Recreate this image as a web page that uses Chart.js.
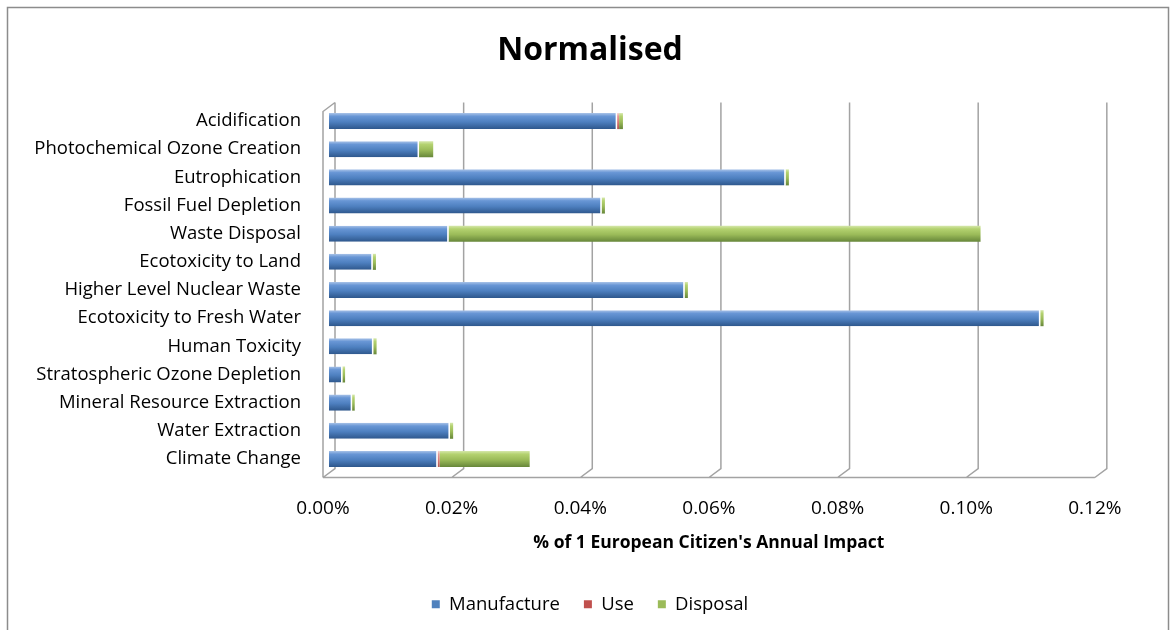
<!DOCTYPE html>
<html>
<head>
<meta charset="utf-8">
<script src="https://cdn.jsdelivr.net/npm/chart.js@4.4.1/dist/chart.umd.min.js"></script>
<style>
  html, body { margin: 0; padding: 0; background: #fff; }
  #wrap { width: 1171px; height: 630px; position: relative; }
</style>
</head>
<body>
<div id="wrap"><canvas id="impactChart" width="1171" height="630"></canvas></div>
<script>
// ---- data (values in % of 1 European citizen's annual impact) ----
const categories = [
    'Acidification',
    'Photochemical Ozone Creation',
    'Eutrophication',
    'Fossil Fuel Depletion',
    'Waste Disposal',
    'Ecotoxicity to Land',
    'Higher Level Nuclear Waste',
    'Ecotoxicity to Fresh Water',
    'Human Toxicity',
    'Stratospheric Ozone Depletion',
    'Mineral Resource Extraction',
    'Water Extraction',
    'Climate Change'
];
const manufacture = [0.0448, 0.0140, 0.0710, 0.0424, 0.0186, 0.0068, 0.0553, 0.1106, 0.0069, 0.0021, 0.0036, 0.0188, 0.0169];
const use         = [0.0003, 0.0000, 0.0000, 0.0000, 0.0000, 0.0000, 0.0000, 0.0000, 0.0000, 0.0000, 0.0000, 0.0000, 0.0003];
const disposal    = [0.0006, 0.0022, 0.0005, 0.0005, 0.0827, 0.0005, 0.0005, 0.0005, 0.0005, 0.0004, 0.0004, 0.0005, 0.0140];
const xTicks = [0, 0.02, 0.04, 0.06, 0.08, 0.10, 0.12];
const xTitle = "% of 1 European Citizen's Annual Impact";

const seriesColors = ['#4f81bd', '#c0504d', '#9bbb59'];
const FONT = '"Open Sans", "DejaVu Sans", sans-serif';

// ---- cylinder-like shading, one gradient per bar ----
function shaded(stops) {
    return (ctx) => {
        const chart = ctx.chart;
        if (!chart.chartArea || ctx.type !== 'data') return stops[2][1];
        const yc = chart.scales.y.getPixelForValue(ctx.dataIndex);
        const half = 8;
        const g = chart.ctx.createLinearGradient(0, yc - half, 0, yc + half);
        stops.forEach(([p, c]) => g.addColorStop(p, c));
        return g;
    };
}
const blueStops  = [[0, '#a9c3e8'], [0.2, '#6896d5'], [0.55, '#4e80c0'], [1, '#2e578c']];
const redStops   = [[0, '#f2d0cf'], [0.2, '#e69a98'], [0.55, '#d97a77'], [1, '#b05450']];
const greenStops = [[0, '#d6e8ad'], [0.2, '#b4d270'], [0.55, '#9bbb59'], [1, '#67873a']];

// ---- border around the whole chart, fake 3D walls/floor, axis title ----
const walls = {
    id: 'walls',
    beforeDraw(chart) {
        const c = chart.ctx;
        c.save();
        c.strokeStyle = '#8c8c8c';
        c.lineWidth = 1.5;
        c.strokeRect(7.5, 7.5, 1161, 700);
        c.restore();
    },
    beforeDatasetsDraw(chart) {
        const c = chart.ctx;
        const xs = chart.scales.x;
        const { top, bottom } = chart.chartArea;
        const d = 6;   // half depth, x
        const h = 4.5; // half depth, y
        c.save();
        c.strokeStyle = '#a3a3a3';
        c.lineWidth = 1.5;
        c.beginPath();
        xTicks.forEach(v => {
            const x = xs.getPixelForValue(v);
            c.moveTo(x + d, top - h);
            c.lineTo(x + d, bottom - h);
            c.lineTo(x - d, bottom + h);
        });
        const x0 = xs.getPixelForValue(0);
        const xN = xs.getPixelForValue(xTicks[xTicks.length - 1]);
        c.moveTo(x0 - d, bottom + h);
        c.lineTo(xN - d, bottom + h);
        c.moveTo(x0 - d, bottom + h);
        c.lineTo(x0 - d, top + h);
        c.lineTo(x0 + d, top - h);
        c.stroke();

        // axis title, centred under the floor front edge
        c.fillStyle = '#000';
        c.font = 'bold 17.5px ' + FONT;
        c.textAlign = 'center';
        c.textBaseline = 'middle';
        c.fillText(xTitle, (x0 + xN) / 2 - d, bottom + 70);
        c.restore();
    }
};

const segBorder = { top: 0, bottom: 0, left: 0, right: 1.5 };

new Chart(document.getElementById('impactChart'), {
    type: 'bar',
    data: {
        labels: categories,
        datasets: [
            { label: 'Manufacture', data: manufacture, backgroundColor: shaded(blueStops), borderColor: '#ffffff', borderWidth: segBorder, borderSkipped: false },
            { label: 'Use', data: use, backgroundColor: shaded(redStops), borderColor: '#ffffff', borderWidth: 0, borderSkipped: false },
            { label: 'Disposal', data: disposal, backgroundColor: shaded(greenStops), borderColor: '#ffffff', borderWidth: 0, borderSkipped: false }
        ]
    },
    options: {
        indexAxis: 'y',
        responsive: false,
        animation: false,
        barPercentage: 0.57,
        categoryPercentage: 1,
        layout: { padding: { left: 20, right: 11, top: 8, bottom: 6.5 } },
        scales: {
            x: {
                stacked: true,
                min: 0,
                max: 0.1292, // the plot runs on past the last tick, as in the original
                afterBuildTicks: (s) => { s.ticks = xTicks.map(v => ({ value: v })); },
                afterFit: (s) => { s.height = 98; },
                grid: { display: false, drawTicks: false },
                border: { display: false },
                ticks: {
                    padding: 24,
                    labelOffset: -6,
                    maxRotation: 0,
                    color: '#000',
                    font: { family: FONT, size: 19 },
                    callback: (v) => Number(v).toFixed(2) + '%'
                },
                title: { display: false }
            },
            y: {
                stacked: true,
                grid: { display: false, drawTicks: false },
                border: { display: false },
                afterFit: (s) => { s.width = 309; },
                ticks: {
                    padding: 28,
                    color: '#000',
                    font: { family: FONT, size: 18.5 }
                }
            }
        },
        plugins: {
            title: {
                display: true,
                text: 'Normalised',
                color: '#000',
                font: { family: FONT, size: 32, weight: 'bold' },
                padding: { top: 24, bottom: 36.6 }
            },
            legend: {
                position: 'bottom',
                labels: {
                    color: '#000',
                    boxWidth: 8,
                    boxHeight: 8,
                    padding: 24,
                    font: { family: FONT, size: 18.5 },
                    generateLabels: (chart) => Chart.defaults.plugins.legend.labels.generateLabels(chart)
                        .map((item, i) => Object.assign(item, { fillStyle: seriesColors[i], strokeStyle: seriesColors[i], lineWidth: 0 }))
                }
            },
            tooltip: { enabled: false }
        }
    },
    plugins: [walls]
});
</script>
</body>
</html>
